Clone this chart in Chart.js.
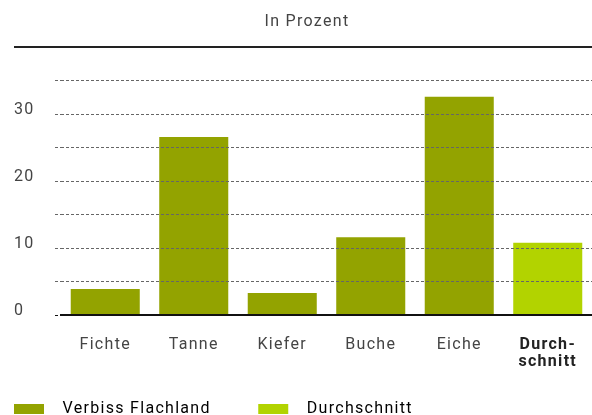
<!DOCTYPE html>
<html>
<head>
<meta charset="utf-8">
<script src="https://cdn.jsdelivr.net/npm/chart.js@4/dist/chart.umd.min.js"></script>
<style>
  html, body { margin: 0; padding: 0; background: #fff; }
  #wrap { width: 592px; height: 415px; }
</style>
</head>
<body>
<div id="wrap"><canvas id="verbiss-chart"></canvas></div>
<script>
// Daten
var categories = ['Fichte', 'Tanne', 'Kiefer', 'Buche', 'Eiche', ['Durch-', 'schnitt']];
var verbiss = [3.9, 26.6, 3.3, 11.6, 32.6, 10.8];
var tickLabels = [0, 10, 20, 30];
var legendLabels = ['Verbiss Flachland', 'Durchschnitt'];

var darkGreen = '#93a300';
var lightGreen = '#b2d300';
var textGrey = '#444';

// letter spacing on canvas text
var spacing = {
  id: 'spacing',
  beforeUpdate: function (chart) { chart.ctx.letterSpacing = '1.3px'; },
  beforeDraw: function (chart) { chart.ctx.letterSpacing = '1.3px'; }
};

// black line at the top of the value axis
var topLine = {
  id: 'topLine',
  afterDraw: function (chart) {
    var y = Math.round(chart.scales.y.getPixelForValue(40));
    var ctx = chart.ctx;
    ctx.save();
    ctx.strokeStyle = '#222';
    ctx.lineWidth = 2;
    ctx.beginPath();
    ctx.moveTo(14, y);
    ctx.lineTo(chart.width, y);
    ctx.stroke();
    ctx.restore();
  }
};

var ctx = document.getElementById('verbiss-chart').getContext('2d');

var myChart = new Chart(ctx, {
  type: 'bar',
  data: {
    labels: categories,
    datasets: [{
      label: legendLabels[0],
      data: verbiss,
      backgroundColor: verbiss.map(function (v, i) { return i === 5 ? lightGreen : darkGreen; }),
      barPercentage: 0.78,
      categoryPercentage: 1
    }]
  },
  options: {
    responsive: true,
    maintainAspectRatio: false,
    animation: false,
    layout: { autoPadding: false, padding: { left: 14, right: -8, top: 0, bottom: -12 } },
    plugins: {
      title: {
        display: true,
        text: 'In Prozent',
        color: textGrey,
        font: { family: 'Roboto', size: 16, weight: 'normal', lineHeight: 1.2 },
        padding: { top: 12, bottom: 16 }
      },
      legend: {
        position: 'bottom',
        align: 'start',
        labels: {
          boxWidth: 30,
          boxHeight: 10,
          padding: 0,
          color: textGrey,
          font: { family: 'Roboto', size: 16 },
          generateLabels: function () {
            // spaces only widen the gaps around the text
            return [
              { text: '  ' + legendLabels[0] + '         ', fillStyle: darkGreen, strokeStyle: darkGreen, lineWidth: 0 },
              { text: '  ' + legendLabels[1], fillStyle: lightGreen, strokeStyle: lightGreen, lineWidth: 0 }
            ];
          }
        }
      },
      tooltip: { enabled: false }
    },
    scales: {
      x: {
        afterFit: function (scale) { scale.height = 86; },
        // hidden ticks only push the labels down
        grid: { display: false, drawTicks: true, tickLength: 21 },
        border: { display: true, color: '#111', width: 2, z: 2 },
        ticks: {
          color: function (c) { return c.index === 5 ? '#222' : textGrey; },
          padding: 0,
          maxRotation: 0,
          font: function (c) {
            return { family: 'Roboto', size: 16, lineHeight: 1.1, weight: c.index === 5 ? 'bold' : 'normal' };
          }
        }
      },
      y: {
        min: 0,
        max: 40,
        afterFit: function (scale) { scale.width = 47; },
        grid: {
          z: 1,
          color: function (c) { return c.tick && c.tick.value === 40 ? 'rgba(0,0,0,0)' : '#666'; },
          lineWidth: 1,
          borderDash: [3, 2],
          drawTicks: true,
          tickLength: 6,
          tickColor: function (c) {
            if (!c.tick) return '#666';
            if (c.tick.value === 0) return '#111';
            if (c.tick.value === 40) return 'rgba(0,0,0,0)';
            return '#666';
          },
          tickBorderDash: [3, 2]
        },
        border: { display: false, dash: [3, 2] },
        ticks: {
          stepSize: 5,
          crossAlign: 'far',
          labelOffset: -4,
          color: textGrey,
          font: { family: 'Roboto', size: 16 },
          callback: function (v) { return tickLabels.indexOf(v) >= 0 ? String(v) : ''; }
        }
      }
    }
  },
  plugins: [spacing, topLine]
});
</script>
</body>
</html>
